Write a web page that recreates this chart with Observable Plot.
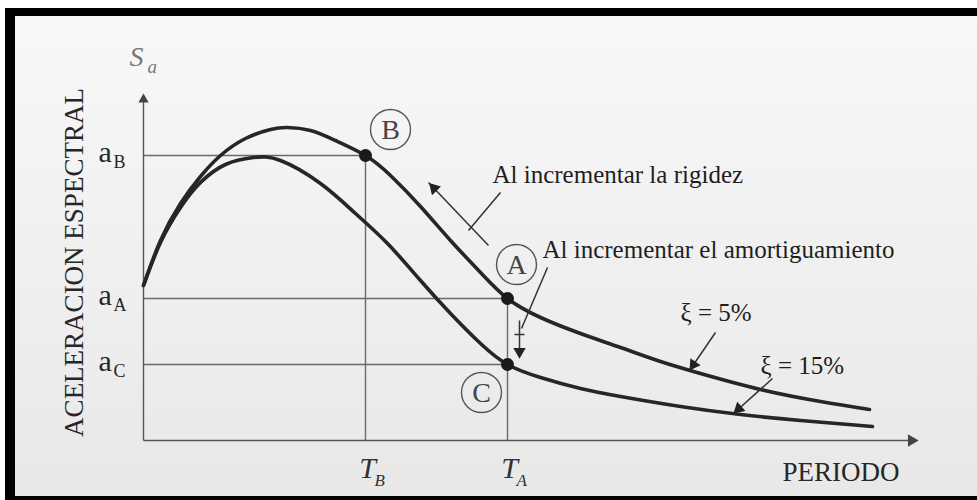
<!DOCTYPE html>
<html><head><meta charset="utf-8">
<script src="https://cdn.jsdelivr.net/npm/d3@7"></script>
<script src="https://cdn.jsdelivr.net/npm/@observablehq/plot@0.6"></script>
<style>
body{margin:0;background:#fff;}
#frame{position:absolute;left:5px;top:8px;width:962px;height:480px;border-top:8px solid #000;border-left:10px solid #000;border-bottom:4px solid #000;background:linear-gradient(#f8f8f8,#e8e8e8);}
#frame svg{display:block}
</style></head><body><div id="frame"></div>
<script>
// Spectral curves (period T, spectral acceleration Sa), schematic units
const T5   = [0,0.17,0.37,0.57,0.77,1.02,1.27,1.44,1.67,1.92,2.22,2.47,2.77,3.07,3.37,3.64,3.97,4.37,4.77,5.17,5.57,6.17,6.77,7.26];
const SA5  = [1.55,2.00,2.37,2.64,2.85,3.02,3.11,3.13,3.10,3.00,2.85,2.65,2.34,2.00,1.68,1.42,1.23,1.07,0.93,0.79,0.67,0.51,0.39,0.31];
const T15  = [0,0.17,0.37,0.57,0.82,1.10,1.37,1.77,2.12,2.44,2.77,3.07,3.37,3.64,3.97,4.37,4.77,5.37,5.97,6.57,7.29];
const SA15 = [1.55,1.98,2.33,2.58,2.76,2.83,2.80,2.57,2.27,1.97,1.60,1.27,0.97,0.76,0.63,0.52,0.44,0.34,0.26,0.20,0.14];

// Points of interest
const pointNames = ["B","A","C"];
const pointT  = [2.22,3.64,3.64];
const pointSa = [2.85,1.42,0.76];

// Tick labels
const yTickBase = ["a","a","a"];
const yTickSub  = ["B","A","C"];
const yTickVals = [2.85,1.42,0.76];
const xTickBase = ["T","T"];
const xTickSub  = ["B","A"];
const xTickVals = [2.22,3.64];

// Axis extents
const xAxisEnd = 7.68, yAxisEnd = 3.41;

// Annotation texts
const annTexts = ["Al incrementar la rigidez","Al incrementar el amortiguamiento","ξ = 5%","ξ = 15%"];
const annT  = [3.49,3.99,5.37,6.17];
const annSa = [2.58,1.83,1.20,0.67];

// Circled labels
const circT  = [2.47,3.73,3.38];
const circSa = [3.11,1.76,0.48];

// Leader / arrow segments
const segT1  = [3.45,3.57,3.76,3.71,4.04,5.72,6.29];
const segSa1 = [1.95,2.48,1.20,1.06,1.73,1.08,0.62];
const segT2  = [2.85,3.25,3.76,3.81,3.78,5.46,5.90];
const segSa2 = [2.58,2.10,0.88,1.06,1.12,0.70,0.27];
// Arrow heads
const headT   = [2.905,3.76,5.50,5.952];
const headSa  = [2.522,0.89,0.758,0.317];
const headRot = [-43.6,180,-145.6,-131.9];

const idx = n => d3.range(n);
const ink = "#262626";
const txt = "#262626";
const serif = "Liberation Serif, Times New Roman, serif";

const refX1 = [0,0,0,2.22,3.64], refY1 = [2.85,1.42,0.76,0,0];
const refX2 = [2.22,3.64,3.64,2.22,3.64], refY2 = [2.85,1.42,0.76,2.85,1.42];

const chart = Plot.plot({
  width: 962, height: 480, margin: 0,
  x: {domain: [-1.28, 8.34], axis: null},
  y: {domain: [-0.56, 4.24], axis: null},
  style: {background: "transparent", fontFamily: serif, overflow: "visible"},
  marks: [
    // reference lines
    Plot.link(idx(5), {x1: refX1, y1: refY1, x2: refX2, y2: refY2, stroke: "#6a6a6a", strokeWidth: 1.4}),
    // axes
    Plot.link([0], {x1: [0], y1: [0], x2: [xAxisEnd], y2: [0], stroke: "#555", strokeWidth: 1.4}),
    Plot.link([0], {x1: [0], y1: [0], x2: [0], y2: [yAxisEnd], stroke: "#555", strokeWidth: 1.4}),
    Plot.dot([0], {x: [xAxisEnd], y: [0], symbol: "triangle", r: 4.6, rotate: 90, fill: "#444", stroke: "none"}),
    Plot.dot([0], {x: [0], y: [yAxisEnd], symbol: "triangle", r: 3.8, rotate: 0, fill: "#444", stroke: "none"}),
    // curves
    Plot.line(idx(T5.length), {x: T5, y: SA5, curve: "natural", stroke: ink, strokeWidth: 3.6}),
    Plot.line(idx(T15.length), {x: T15, y: SA15, curve: "natural", stroke: ink, strokeWidth: 3.6}),
    // points
    Plot.dot(idx(3), {x: pointT, y: pointSa, r: 6.5, fill: "#1a1a1a", stroke: "none"}),
    // circled labels
    Plot.dot(idx(3), {x: circT, y: circSa, r: 20, fill: "none", stroke: "#555", strokeWidth: 1.4}),
    Plot.text(idx(3), {x: circT, y: circSa, text: pointNames, fontSize: 28, fill: "#444", textAnchor: "middle", lineAnchor: "middle", dy: 1}),
    // leaders and arrows
    Plot.link(idx(segT1.length), {x1: segT1, y1: segSa1, x2: segT2, y2: segSa2, stroke: "#333", strokeWidth: 1.5}),
    Plot.dot(idx(4), {x: headT, y: headSa, rotate: headRot, symbol: "triangle", r: 4.6, fill: "#222", stroke: "none"}),
    // y tick labels
    Plot.text(idx(3), {x: -0.45, y: yTickVals.map(v => v - 0.065), text: yTickBase, fontSize: 30, fill: txt, textAnchor: "start", lineAnchor: "bottom"}),
    Plot.text(idx(3), {x: -0.30, y: yTickVals.map(v => v - 0.125), text: yTickSub, fontSize: 18, fill: txt, textAnchor: "start", lineAnchor: "bottom"}),
    // x tick labels
    Plot.text(idx(2), {x: xTickVals.map(v => v + 0.02), y: -0.37, text: xTickBase, fontSize: 30, fontStyle: "italic", fill: "#333", textAnchor: "middle", lineAnchor: "bottom"}),
    Plot.text(idx(2), {x: xTickVals.map(v => v + 0.09), y: -0.45, text: xTickSub, fontSize: 17, fontStyle: "italic", fill: "#333", textAnchor: "start", lineAnchor: "bottom"}),
    // axis titles
    Plot.text(["S"], {x: -0.14, y: 3.75, text: d => d, fontSize: 28, fontStyle: "italic", fill: "#777", textAnchor: "start", lineAnchor: "bottom"}),
    Plot.text(["a"], {x: 0.04, y: 3.68, text: d => d, fontSize: 19, fontStyle: "italic", fill: "#777", textAnchor: "start", lineAnchor: "bottom"}),
    Plot.text(["ACELERACION ESPECTRAL"], {x: -0.695, y: 1.78, text: d => d, fontSize: 27, rotate: -90, fill: txt, textAnchor: "middle", lineAnchor: "middle"}),
    Plot.text(["PERIODO"], {x: 6.39, y: -0.40, text: d => d, fontSize: 27, fill: txt, textAnchor: "start", lineAnchor: "bottom"}),
    // annotations
    Plot.text(idx(4), {x: annT, y: annSa, text: annTexts, fontSize: 25, fill: "#1e1e1e", textAnchor: "start", lineAnchor: "bottom"})
  ]
});
document.getElementById("frame").appendChild(chart);
</script></body></html>
